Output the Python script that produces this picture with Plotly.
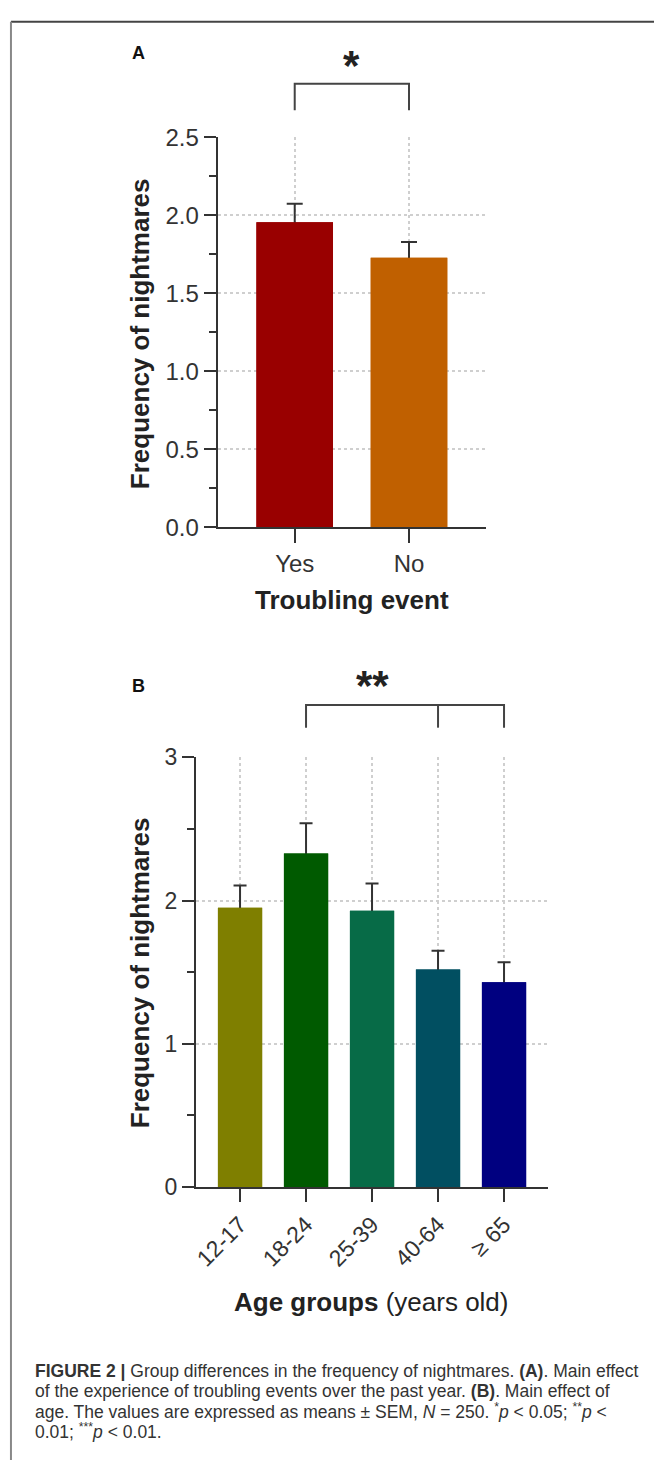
import plotly.graph_objects as go

W, H = 654, 1473

# ---- data ----
cats_a = ["Yes", "No"]
means_a = [1.955, 1.728]
sem_a = [0.118, 0.100]
colors_a = ["#990000", "#C06000"]

cats_b = ["12-17", "18-24", "25-39", "40-64", "≥ 65"]
means_b = [1.95, 2.33, 1.93, 1.52, 1.43]
sem_b = [0.155, 0.21, 0.19, 0.13, 0.14]
colors_b = ["#7F7F00", "#005A00", "#076B47", "#014F61", "#000080"]

yticks_a = [0, 0.5, 1.0, 1.5, 2.0, 2.5]
yticks_b = [0, 1, 2, 3]

caption_lines = [
    "<b>FIGURE 2 |</b> Group differences in the frequency of nightmares. <b>(A)</b>. Main effect",
    "of the experience of troubling events over the past year. <b>(B)</b>. Main effect of",
    "age. The values are expressed as means ± SEM, <i>N</i> = 250. <sup>*</sup><i>p</i> &lt; 0.05; "
    "<sup>**</sup><i>p</i> &lt;",
    "0.01; <sup>***</sup><i>p</i> &lt; 0.01.",
]

# ---- layout geometry (pixels) ----
A_X = (215, 485); A_Y = (523, 125.5)
B_X = (193, 547); B_Y = (1195, 757.3)
RA = (-0.674, 1.674)
RB = (-0.67, 4.661)

def px(x):
    return x / W

def py(y):
    return 1 - y / H

def cat_paper(c, dom, rng):
    d0, d1 = px(dom[0]), px(dom[1])
    return d0 + (c - rng[0]) / (rng[1] - rng[0]) * (d1 - d0)

AX = "#333333"
GRID = "#cfcfcf"
FONT = "Liberation Sans, Arial, sans-serif"

xa = list(range(len(cats_a)))
xb = list(range(len(cats_b)))

fig = go.Figure()
# A: error-bar carrier + cover bars (hides lower half of error bar)
fig.add_trace(go.Bar(x=xa, y=means_a, width=0.67, marker=dict(color=colors_a, line=dict(width=0)),
                     error_y=dict(type="data", array=sem_a, symmetric=True, color=AX, thickness=2, width=8),
                     xaxis="x", yaxis="y", showlegend=False, hoverinfo="skip"))
fig.add_trace(go.Bar(x=xa, y=means_a, width=0.67, marker=dict(color=colors_a, line=dict(width=0)),
                     xaxis="x", yaxis="y", showlegend=False))
# B
fig.add_trace(go.Bar(x=xb, y=means_b, width=0.67, marker=dict(color=colors_b, line=dict(width=0)),
                     error_y=dict(type="data", array=sem_b, symmetric=True, color=AX, thickness=2, width=6.5),
                     xaxis="x2", yaxis="y2", showlegend=False, hoverinfo="skip"))
fig.add_trace(go.Bar(x=xb, y=means_b, width=0.67, marker=dict(color=colors_b, line=dict(width=0)),
                     xaxis="x2", yaxis="y2", showlegend=False))

common_x = dict(showline=True, linecolor=AX, linewidth=2, ticks="outside", tickwidth=2, tickcolor=AX,
                showgrid=True, griddash="dot", gridcolor=GRID, gridwidth=2, zeroline=False, fixedrange=True)
common_y = dict(showline=True, linecolor=AX, linewidth=2, ticks="outside", tickwidth=2, tickcolor=AX,
                ticklen=12, showgrid=True, griddash="dot", gridcolor=GRID, gridwidth=2, zeroline=False,
                fixedrange=True)

fig.update_layout(
    width=W, height=H, margin=dict(l=0, r=0, t=0, b=0),
    paper_bgcolor="white", plot_bgcolor="white", barmode="overlay",
    font=dict(family=FONT, color="#333333"),
    xaxis=dict(domain=[px(A_X[0]), px(A_X[1])], range=list(RA), tickvals=xa, ticktext=cats_a,
               ticklen=14, tickfont=dict(size=24, color="#333"), anchor="y", **common_x),
    yaxis=dict(domain=[py(A_Y[0]), py(A_Y[1])], range=[0, 2.5], tickvals=yticks_a, tickformat=".1f",
               tickfont=dict(size=24, color="#333"), anchor="x",
               minor=dict(dtick=0.25, ticklen=7, tickwidth=2, tickcolor=AX, ticks="outside", showgrid=False),
               **common_y),
    xaxis2=dict(domain=[px(B_X[0]), px(B_X[1])], range=list(RB), tickvals=xb, ticktext=cats_b,
                ticklen=13, tickangle=-45, tickfont=dict(size=23, color="#333"), anchor="y2", **common_x),
    yaxis2=dict(domain=[py(B_Y[0]), py(B_Y[1])], range=[0, 3], tickvals=yticks_b,
                tickfont=dict(size=23, color="#333"), anchor="x2",
                minor=dict(dtick=0.5, ticklen=7, tickwidth=2, tickcolor=AX, ticks="outside", showgrid=False),
                **common_y),
)

ann = []
def add_text(text, x, y, size, bold=False, angle=0, color="#222", xanchor="center", align="center"):
    ann.append(dict(text=(f"<b>{text}</b>" if bold else text), x=px(x), y=py(y), xref="paper", yref="paper",
                    showarrow=False, textangle=angle, font=dict(size=size, color=color, family=FONT),
                    xanchor=xanchor, yanchor="middle", align=align))

add_text("A", 135, 40, 18, bold=True, color="#111")
add_text("B", 135, 685, 18, bold=True, color="#111")
add_text("Frequency of nightmares", 137, 326, 26, bold=True, angle=-90)
add_text("Frequency of nightmares", 137, 977, 26, bold=True, angle=-90)
add_text("Troubling event", 350, 597, 26, bold=True)
add_text("<b>Age groups</b> (years old)", 370, 1312, 26)

# significance stars
star_a_x = (cat_paper(0, A_X, RA) + cat_paper(1, A_X, RA)) / 2
ann.append(dict(text="<b>*</b>", x=star_a_x, y=py(52), xref="paper", yref="paper", showarrow=False,
                font=dict(size=42, color="#222", family=FONT), xanchor="center", yanchor="middle"))
star_b_x = (cat_paper(1, B_X, RB) + cat_paper(3, B_X, RB)) / 2
ann.append(dict(text="<b>**</b>", x=star_b_x, y=py(684), xref="paper", yref="paper", showarrow=False,
                font=dict(size=42, color="#222", family=FONT), xanchor="center", yanchor="middle"))

for i, line in enumerate(caption_lines):
    ann.append(dict(text=line, x=px(29), y=py(1382 + 20.4 * i), xref="paper", yref="paper", showarrow=False,
                    xanchor="left", yanchor="middle", align="left",
                    font=dict(size=17.5, color="#333", family=FONT)))

shapes = []
# figure frame
shapes.append(dict(type="line", xref="paper", yref="paper", x0=px(7), x1=1, y0=py(8), y1=py(8),
                   line=dict(color="#444", width=2)))
shapes.append(dict(type="line", xref="paper", yref="paper", x0=px(7), x1=px(7), y0=py(8), y1=0,
                   line=dict(color="#888", width=2)))

# bracket A
BR = dict(color="#444", width=2)
xa0, xa1 = cat_paper(0, A_X, RA), cat_paper(1, A_X, RA)
shapes.append(dict(type="path", xref="paper", yref="paper",
                   path=f"M{xa0},{py(98)} L{xa0},{py(71)} L{xa1},{py(71)} L{xa1},{py(98)}", line=BR))
# bracket B
xb1, xb3, xb4 = cat_paper(1, B_X, RB), cat_paper(3, B_X, RB), cat_paper(4, B_X, RB)
shapes.append(dict(type="path", xref="paper", yref="paper",
                   path=f"M{xb1},{py(727)} L{xb1},{py(704)} L{xb4},{py(704)} L{xb4},{py(727)}", line=BR))
shapes.append(dict(type="line", xref="paper", yref="paper", x0=xb3, x1=xb3, y0=py(704), y1=py(727), line=BR))

fig.update_layout(annotations=ann, shapes=shapes)
fig.write_html("out.html", config={"displayModeBar": False},
               post_script="document.body.style.margin='0';document.body.style.overflow='hidden';")
